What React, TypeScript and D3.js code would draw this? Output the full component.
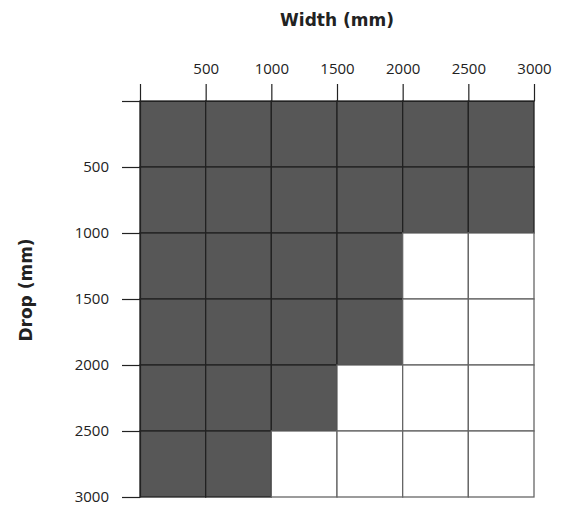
import React, { useEffect, useRef } from "react";
import * as d3 from "d3";

// drop bands (mm) and the widest width (mm) available for each drop
const drops = [500, 1000, 1500, 2000, 2500, 3000];
const maxWidths = [3000, 3000, 2000, 2000, 1500, 1000];
const widthTicks = [0, 500, 1000, 1500, 2000, 2500, 3000];
const dropTicks = [0, 500, 1000, 1500, 2000, 2500, 3000];

const W = 573;
const H = 506;
const margin = { top: 101, right: 39, bottom: 9, left: 140 };

export default function App() {
  const ref = useRef<SVGSVGElement>(null);

  useEffect(() => {
    const svg = d3.select(ref.current);
    svg.selectAll("*").remove();

    const x = d3.scaleLinear().domain([0, 3000]).range([margin.left, W - margin.right]);
    const y = d3.scaleLinear().domain([0, 3000]).range([margin.top, H - margin.bottom]);

    const cells: { w0: number; w1: number; d0: number; d1: number; on: boolean }[] = [];
    drops.forEach((d, i) => {
      widthTicks.slice(1).forEach((w) => {
        cells.push({ w0: w - 500, w1: w, d0: d - 500, d1: d, on: w <= maxWidths[i] });
      });
    });

    svg
      .append("g")
      .selectAll("rect")
      .data(cells)
      .join("rect")
      .attr("x", (c) => x(c.w0))
      .attr("y", (c) => y(c.d0))
      .attr("width", (c) => x(c.w1) - x(c.w0))
      .attr("height", (c) => y(c.d1) - y(c.d0))
      .attr("fill", (c) => (c.on ? "#575757" : "#ffffff"))
      .attr("stroke", (c) => (c.on ? "#222" : "#666"))
      .attr("stroke-width", 1.3);

    const xAxis = svg
      .append("g")
      .attr("transform", `translate(0,${margin.top})`)
      .call(
        d3
          .axisTop(x)
          .tickValues(widthTicks)
          .tickSize(17)
          .tickSizeOuter(0)
          .tickPadding(10)
          .tickFormat((v) => (v === 0 ? "" : String(v))),
      );

    const yAxis = svg
      .append("g")
      .attr("transform", `translate(${margin.left},0)`)
      .call(
        d3
          .axisLeft(y)
          .tickValues(dropTicks)
          .tickSize(18)
          .tickSizeOuter(0)
          .tickPadding(13)
          .tickFormat((v) => (v === 0 ? "" : String(v))),
      );

    [xAxis, yAxis].forEach((g) => {
      g.selectAll("line").attr("stroke", "#222").attr("stroke-width", 1.2);
      g.select(".domain").attr("stroke", "#222").attr("stroke-width", 1.2);
      g.selectAll("text")
        .attr("font-family", "'Open Sans', sans-serif")
        .attr("font-size", 15)
        .attr("fill", "#222");
    });

    svg
      .append("text")
      .attr("x", (x(0) + x(3000)) / 2)
      .attr("y", 26)
      .attr("text-anchor", "middle")
      .attr("font-family", "'DejaVu Sans', sans-serif")
      .attr("font-weight", "bold")
      .attr("font-size", 17)
      .attr("fill", "#222")
      .text("Width (mm)");

    svg
      .append("text")
      .attr("transform", `translate(32,${290}) rotate(-90)`)
      .attr("text-anchor", "middle")
      .attr("font-family", "'DejaVu Sans', sans-serif")
      .attr("font-weight", "bold")
      .attr("font-size", 17)
      .attr("fill", "#222")
      .text("Drop (mm)");
  }, []);

  return (
    <svg
      ref={ref}
      width={W}
      height={H}
      style={{ position: "absolute", left: 0, top: 0, background: "#fff" }}
    />
  );
}
